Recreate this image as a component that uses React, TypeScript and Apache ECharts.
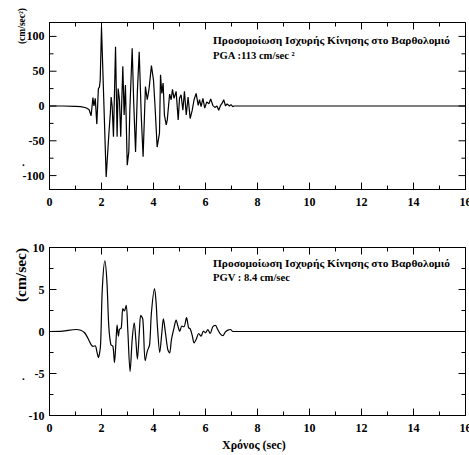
import React, { useEffect, useRef } from "react";
import * as echarts from "echarts";

// Acceleration record (cm/sec^2) vs time (sec)
const accT = [0, 0.5, 1.0, 1.2, 1.4, 1.52, 1.6, 1.67, 1.71, 1.76, 1.82, 1.88, 1.92, 1.95, 2.0, 2.18, 2.28, 2.34, 2.37, 2.41, 2.46, 2.54, 2.6, 2.64, 2.69, 2.74, 2.82, 2.87, 2.92, 2.99, 3.05, 3.09, 3.18, 3.24, 3.31, 3.38, 3.45, 3.53, 3.6, 3.69, 3.76, 3.83, 3.92, 4.0, 4.06, 4.14, 4.23, 4.27, 4.32, 4.37, 4.42, 4.49, 4.53, 4.62, 4.68, 4.73, 4.79, 4.87, 4.95, 5.0, 5.06, 5.13, 5.19, 5.26, 5.33, 5.41, 5.49, 5.56, 5.64, 5.72, 5.77, 5.83, 5.9, 5.97, 6.05, 6.13, 6.2, 6.28, 6.36, 6.44, 6.51, 6.58, 6.64, 6.7, 6.77, 6.83, 6.92, 6.98, 7.05, 7.1, 16];
const accV = [0, 0, -0.5, -1, -2.5, -5, -14, 12, 0, 11, -26, 25, 27, 37, 113, -102, -42, -10, 13, 0, -44, 85, -44, 25, 9, -44, 57, -13, 30, -85, -66, -6, 83, 4, -66, 21, 78, -15, -73, 28, 9, 25, 58, 37, -1, -59, -39, 45, 18, 33, -13, -27, -20, 17, 9, 24, 11, 21, -20, 11, 16, -6, 21, -13, 13, -18, -6, 9, 18, 1, 9, -1, 11, -3, 6, 3, 10, 1, -2, 0, -6, 1, 4, 9, 0, 3, 0, 2, -1, 0, 0];

// Velocity record (cm/sec) vs time (sec)
const velT = [0, 0.5, 1.03, 1.2, 1.35, 1.47, 1.6, 1.67, 1.76, 1.82, 1.88, 1.96, 2.03, 2.13, 2.21, 2.28, 2.36, 2.44, 2.5, 2.56, 2.6, 2.65, 2.69, 2.76, 2.82, 2.88, 2.95, 3.01, 3.1, 3.18, 3.26, 3.32, 3.38, 3.46, 3.51, 3.59, 3.68, 3.76, 3.85, 3.92, 4.04, 4.1, 4.15, 4.24, 4.32, 4.38, 4.46, 4.55, 4.62, 4.69, 4.79, 4.87, 4.94, 5.01, 5.09, 5.17, 5.27, 5.35, 5.41, 5.49, 5.56, 5.64, 5.74, 5.83, 5.92, 6.0, 6.09, 6.18, 6.28, 6.38, 6.47, 6.56, 6.67, 6.76, 6.86, 6.96, 7.05, 7.1, 16];
const velV = [0, 0.05, 0.24, 0.15, -0.15, -0.76, -1.56, -1.76, -1.7, -2.36, -3.1, -1.76, 5, 8.4, 5.84, 0.64, -1.56, -1.76, -3.7, -1, 0.76, -0.56, 0.24, 0.44, 2.72, 2.44, 3.12, 0.24, -4.76, -0.96, 1.04, -0.96, -3.28, 0.24, 1.92, 1.44, -3.48, -2.36, -1.56, 2.24, 5.12, 3.44, 0.64, -2.48, -0.16, 1.52, -0.16, -2.16, -2.56, -0.96, 0.44, 1.36, 0.64, 0.04, 0.64, 0.56, 1.64, 0.44, 0.32, -0.48, -1.36, -0.96, -0.24, -0.56, 0.04, -0.16, 0.24, -0.24, 0.56, 0.72, 0.24, -0.24, -0.5, -0.08, 0.16, 0.24, 0.0, 0, 0];

// Tick positions (major ticks carry labels)
const xTicks = [0, 1, 2, 3, 4, 5, 6, 7, 8, 9, 10, 11, 12, 13, 14, 15, 16];
const xMajorTicks = [0, 2, 4, 6, 8, 10, 12, 14, 16];
const accTicks = [-100, -75, -50, -25, 0, 25, 50, 75, 100];
const accMajorTicks = [-100, -50, 0, 50, 100];
const velTicks = [-10, -7.5, -5, -2.5, 0, 2.5, 5, 7.5, 10];
const velMajorTicks = [-10, -5, 0, 5, 10];

const FONT = "Liberation Serif";
const BLACK = "#000000";
const MAJOR = 7;
const MINOR = 4;
const GRID_W = 416;
const GRID_H = [167, 168];
const X_MIN = 0;
const X_MAX = 16;

const tickLabel = (margin: number) => ({
  show: true,
  margin,
  color: BLACK,
  fontFamily: FONT,
  fontWeight: "bold",
  fontSize: 12,
});

function xAxisFor(gridIndex: number) {
  return {
    type: "value",
    gridIndex,
    min: X_MIN,
    max: X_MAX,
    interval: 2,
    axisLine: { show: true, onZero: false, lineStyle: { color: BLACK, width: 1 } },
    axisTick: { show: true, inside: true, length: MAJOR, lineStyle: { color: BLACK, width: 1 } },
    minorTick: { show: true, splitNumber: 2, length: MINOR, lineStyle: { color: BLACK, width: 1 } },
    splitLine: { show: false },
    axisLabel: tickLabel(6),
  } as any;
}

// Frame tick marks on the top and right sides, through the grid's own scales
function tickSeries(gi: number, yMin: number, yMax: number, yTicks: number[], yMajor: number[]) {
  const dyPerPx = (yMax - yMin) / GRID_H[gi];
  const dxPerPx = (X_MAX - X_MIN) / GRID_W;
  const seg = (data: number[][]) => ({
    type: "line",
    xAxisIndex: gi,
    yAxisIndex: gi,
    data,
    symbol: "none",
    clip: false,
    z: 4,
    lineStyle: { color: BLACK, width: 1 },
  });
  const out: any[] = [];
  xTicks.forEach((v) => {
    const len = (xMajorTicks.includes(v) ? MAJOR : MINOR) * dyPerPx;
    out.push(seg([[v, yMax], [v, yMax - len]]));
  });
  yTicks.forEach((v) => {
    const len = (yMajor.includes(v) ? MAJOR : MINOR) * dxPerPx;
    out.push(seg([[X_MAX, v], [X_MAX - len, v]]));
  });
  return out;
}

const titleText = (text: string, left: number, top: number, size: number) => ({
  text,
  left,
  top,
  padding: 0,
  textStyle: { color: BLACK, fontFamily: FONT, fontWeight: "bold", fontSize: size },
});

export default function App() {
  const ref = useRef<HTMLDivElement>(null);
  useEffect(() => {
    if (!ref.current) return;
    const chart = echarts.init(ref.current, null, { renderer: "svg" });
    const accData = accT.map((t, i) => [t, accV[i]]);
    const velData = velT.map((t, i) => [t, velV[i]]);

    chart.setOption({
      animation: false,
      title: [
        titleText("Προσομοίωση Ισχυρής Κίνησης στο Βαρθολομιό", 213, 34, 11.4),
        titleText("PGA :113 cm/sec ²", 213, 50, 10.6),
        titleText("Προσομοίωση Ισχυρής Κίνησης στο Βαρθολομιό", 213, 257, 11.4),
        titleText("PGV : 8.4 cm/sec", 213, 272, 10.6),
        titleText(".", 22, 156, 11),
        titleText(".", 22, 370, 11),
        titleText("Χρόνος (sec)", 222, 439, 12),
      ],
      grid: [
        {
          left: 49.5, top: 22.5, width: GRID_W, height: GRID_H[0],
          show: true, borderColor: BLACK, borderWidth: 1, backgroundColor: "rgba(0,0,0,0)",
          outerBoundsMode: "none", containLabel: false,
        },
        {
          left: 49.5, top: 247.5, width: GRID_W, height: GRID_H[1],
          show: true, borderColor: BLACK, borderWidth: 1, backgroundColor: "rgba(0,0,0,0)",
          outerBoundsMode: "none", containLabel: false,
        },
      ],
      xAxis: [xAxisFor(0), xAxisFor(1)],
      yAxis: [
        {
          type: "value",
          gridIndex: 0,
          min: -120,
          max: 120,
          splitNumber: 5,
          minInterval: 50,
          maxInterval: 50,
          name: "(cm/sec²)",
          nameLocation: "middle",
          nameRotate: 90,
          nameGap: 23,
          nameMoveOverlap: false,
          nameTextStyle: { color: BLACK, fontFamily: FONT, fontWeight: "bold", fontSize: 9.5, padding: [0, 0, 0, 160] },
          axisLine: { show: true, onZero: false, lineStyle: { color: BLACK, width: 1 } },
          axisTick: { show: false },
          splitLine: { show: false },
          axisLabel: {
            ...tickLabel(5),
            formatter: (v: number) => (accMajorTicks.includes(v) ? String(v) : ""),
          },
        },
        {
          type: "value",
          gridIndex: 1,
          min: -10,
          max: 10,
          interval: 5,
          name: "(cm/sec)",
          nameLocation: "middle",
          nameRotate: 90,
          nameGap: 21,
          nameMoveOverlap: false,
          nameTextStyle: { color: BLACK, fontFamily: FONT, fontWeight: "bold", fontSize: 15.5, padding: [0, 0, 0, 113] },
          axisLine: { show: true, onZero: false, lineStyle: { color: BLACK, width: 1 } },
          axisTick: { show: true, inside: true, length: MAJOR, lineStyle: { color: BLACK, width: 1 } },
          minorTick: { show: true, splitNumber: 2, length: MINOR, lineStyle: { color: BLACK, width: 1 } },
          splitLine: { show: false },
          axisLabel: {
            ...tickLabel(5),
            formatter: (v: number) => (velMajorTicks.includes(v) ? String(v) : ""),
          },
        },
      ],
      series: [
        {
          type: "line",
          xAxisIndex: 0,
          yAxisIndex: 0,
          data: accData,
          symbol: "none",
          lineStyle: { color: BLACK, width: 1.2 },
          z: 3,
        },
        {
          type: "line",
          xAxisIndex: 1,
          yAxisIndex: 1,
          data: velData,
          symbol: "none",
          smooth: 0.3,
          lineStyle: { color: BLACK, width: 1.2 },
          z: 3,
        },
        // left-side ticks of the acceleration panel (multiples of 25)
        ...accTicks.map((v) => ({
          type: "line",
          xAxisIndex: 0,
          yAxisIndex: 0,
          data: [[X_MIN, v], [X_MIN + ((accMajorTicks.includes(v) ? MAJOR : MINOR) * (X_MAX - X_MIN)) / GRID_W, v]],
          symbol: "none",
          clip: false,
          z: 4,
          lineStyle: { color: BLACK, width: 1 },
        })),
        ...tickSeries(0, -120, 120, accTicks, accMajorTicks),
        ...tickSeries(1, -10, 10, velTicks, velMajorTicks),
      ],
    });
    return () => chart.dispose();
  }, []);
  return (
    <div
      ref={ref}
      style={{ position: "fixed", left: 0, top: 0, width: 469, height: 455, background: "#fff" }}
    />
  );
}
